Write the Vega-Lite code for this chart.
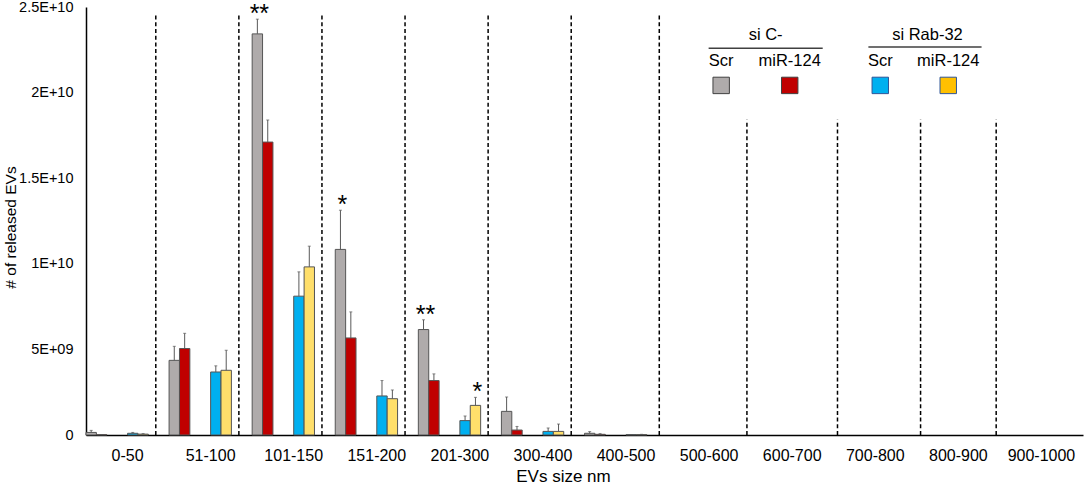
{
  "$schema": "https://vega.github.io/schema/vega-lite/v6.json",
  "width": 997,
  "height": 428,
  "autosize": "none",
  "padding": {"left": 86, "top": 7, "right": 1, "bottom": 51},
  "config": {
    "view": {"stroke": null},
    "font": "Liberation Sans",
    "text": {"font": "Liberation Sans"},
    "axis": {"labelFont": "Liberation Sans", "titleFont": "Liberation Sans", "labelColor": "#000", "titleColor": "#000", "titleFontWeight": "normal", "grid": false, "ticks": false, "domainColor": "#000", "domainWidth": 1.5}
  },
  "datasets": {
    "bars": [
      {"size": "0-50", "group": "si C- Scr", "value": 1.5e8, "hi": 2.7e8},
      {"size": "0-50", "group": "si C- miR-124", "value": 2e7, "hi": 3e7},
      {"size": "0-50", "group": "si Rab-32 Scr", "value": 1.0e8, "hi": 1.5e8},
      {"size": "0-50", "group": "si Rab-32 miR-124", "value": 5e7, "hi": 8e7},
      {"size": "51-100", "group": "si C- Scr", "value": 4.36e9, "hi": 5.18e9},
      {"size": "51-100", "group": "si C- miR-124", "value": 5.05e9, "hi": 5.94e9},
      {"size": "51-100", "group": "si Rab-32 Scr", "value": 3.68e9, "hi": 4.04e9},
      {"size": "51-100", "group": "si Rab-32 miR-124", "value": 3.78e9, "hi": 4.95e9},
      {"size": "101-150", "group": "si C- Scr", "value": 2.343e10, "hi": 2.429e10, "sig": "**"},
      {"size": "101-150", "group": "si C- miR-124", "value": 1.711e10, "hi": 1.84e10},
      {"size": "101-150", "group": "si Rab-32 Scr", "value": 8.11e9, "hi": 9.53e9},
      {"size": "101-150", "group": "si Rab-32 miR-124", "value": 9.82e9, "hi": 1.103e10},
      {"size": "151-200", "group": "si C- Scr", "value": 1.084e10, "hi": 1.313e10, "sig": "*"},
      {"size": "151-200", "group": "si C- miR-124", "value": 5.67e9, "hi": 7.19e9},
      {"size": "151-200", "group": "si Rab-32 Scr", "value": 2.28e9, "hi": 3.18e9},
      {"size": "151-200", "group": "si Rab-32 miR-124", "value": 2.12e9, "hi": 2.63e9},
      {"size": "201-300", "group": "si C- Scr", "value": 6.16e9, "hi": 6.73e9, "sig": "**"},
      {"size": "201-300", "group": "si C- miR-124", "value": 3.18e9, "hi": 3.57e9},
      {"size": "201-300", "group": "si Rab-32 Scr", "value": 8.4e8, "hi": 1.11e9},
      {"size": "201-300", "group": "si Rab-32 miR-124", "value": 1.73e9, "hi": 2.2e9, "sig": "*"},
      {"size": "300-400", "group": "si C- Scr", "value": 1.38e9, "hi": 2.22e9},
      {"size": "300-400", "group": "si C- miR-124", "value": 2.9e8, "hi": 5.0e8},
      {"size": "300-400", "group": "si Rab-32 Scr", "value": 2.1e8, "hi": 4.1e8},
      {"size": "300-400", "group": "si Rab-32 miR-124", "value": 2.1e8, "hi": 6.4e8},
      {"size": "400-500", "group": "si C- Scr", "value": 1.0e8, "hi": 2.0e8},
      {"size": "400-500", "group": "si C- miR-124", "value": 4e7, "hi": 8e7},
      {"size": "400-500", "group": "si Rab-32 Scr", "value": 2e7, "hi": 3e7},
      {"size": "400-500", "group": "si Rab-32 miR-124", "value": 2e7, "hi": 4e7}
    ],
    "dividers": [
      {"after": "0-50", "set": "a"},
      {"after": "51-100", "set": "a"},
      {"after": "101-150", "set": "a"},
      {"after": "151-200", "set": "a"},
      {"after": "201-300", "set": "a"},
      {"after": "300-400", "set": "a"},
      {"after": "400-500", "set": "b"},
      {"after": "500-600", "set": "c"},
      {"after": "800-900", "set": "c"},
      {"after": "600-700", "set": "d"},
      {"after": "700-800", "set": "d"}
    ]
  },
  "layer": [
    {
      "data": {"name": "bars"},
      "mark": {"type": "bar", "stroke": "#555555", "strokeWidth": 1},
      "encoding": {
        "x": {
          "field": "size", "type": "nominal", "sort": null,
          "scale": {"domain": ["0-50", "51-100", "101-150", "151-200", "201-300", "300-400", "400-500", "500-600", "600-700", "700-800", "800-900", "900-1000"], "paddingInner": 0, "paddingOuter": 0},
          "axis": {"labelAngle": 0, "labelFontSize": 16, "labelPadding": 12, "titleFontSize": 17, "titleX": 477, "titleY": 46, "titleBaseline": "alphabetic", "titleAlign": "center"},
          "title": "EVs size nm"
        },
        "xOffset": {
          "field": "group", "type": "nominal",
          "scale": {"domain": ["si C- Scr", "si C- miR-124", " ", "  ", "si Rab-32 Scr", "si Rab-32 miR-124", "   ", "    "], "paddingInner": 0, "paddingOuter": 0}
        },
        "y": {
          "field": "value", "type": "quantitative",
          "scale": {"domain": [0, 2.5e10], "nice": false},
          "axis": {"values": [0, 5e9, 1e10, 1.5e10, 2e10, 2.5e10], "labelExpr": "['0','5E+09','1E+10','1.5E+10','2E+10','2.5E+10'][round(datum.value/5e9)]", "labelFontSize": 14.5, "labelPadding": 13, "titleFontSize": 15.5, "titleX": -76, "titleY": 220, "titleBaseline": "middle", "titleAlign": "center", "titleAngle": -90},
          "title": "# of released EVs"
        },
        "color": {
          "field": "group", "type": "nominal",
          "scale": {"domain": ["si C- Scr", "si C- miR-124", "si Rab-32 Scr", "si Rab-32 miR-124"], "range": ["#AFABAB", "#C00000", "#00B0F0", "#FFDF6B"]},
          "legend": null
        }
      }
    },
    {
      "data": {"name": "bars"},
      "mark": {"type": "rule", "color": "#595959", "strokeWidth": 1},
      "encoding": {
        "x": {"field": "size", "type": "nominal"},
        "xOffset": {"field": "group", "type": "nominal"},
        "y": {"field": "value", "type": "quantitative"},
        "y2": {"field": "hi"}
      }
    },
    {
      "data": {"name": "bars"},
      "mark": {"type": "tick", "color": "#595959", "thickness": 1, "size": 3, "orient": "horizontal"},
      "encoding": {
        "x": {"field": "size", "type": "nominal"},
        "xOffset": {"field": "group", "type": "nominal"},
        "y": {"field": "hi", "type": "quantitative"}
      }
    },
    {
      "data": {"name": "bars"},
      "transform": [{"filter": "datum.sig"}],
      "mark": {"type": "text", "fontSize": 25, "baseline": "alphabetic", "dy": 3, "dx": 2, "color": "#000"},
      "encoding": {
        "x": {"field": "size", "type": "nominal"},
        "xOffset": {"field": "group", "type": "nominal"},
        "y": {"field": "hi", "type": "quantitative"},
        "text": {"field": "sig"}
      }
    },
    {
      "data": {"name": "dividers"},
      "transform": [{"filter": "datum.set == 'a'"}],
      "mark": {"type": "rule", "color": "#000", "strokeWidth": 1.5, "strokeDash": [4, 2.7]},
      "encoding": {
        "x": {"field": "after", "type": "nominal", "bandPosition": 0.84},
        "y": {"datum": 0, "type": "quantitative"},
        "y2": {"datum": 2.461e10}
      }
    },
    {
      "data": {"name": "dividers"},
      "transform": [{"filter": "datum.set == 'b'"}],
      "mark": {"type": "rule", "color": "#000", "strokeWidth": 1.5, "strokeDash": [4, 2.7]},
      "encoding": {
        "x": {"field": "after", "type": "nominal", "bandPosition": 0.9},
        "y": {"datum": 0, "type": "quantitative"},
        "y2": {"datum": 2.461e10}
      }
    },
    {
      "data": {"name": "dividers"},
      "transform": [{"filter": "datum.set == 'c'"}],
      "mark": {"type": "rule", "color": "#000", "strokeWidth": 1.5, "strokeDash": [4, 2.7]},
      "encoding": {
        "x": {"field": "after", "type": "nominal", "bandPosition": 0.955},
        "y": {"datum": 0, "type": "quantitative"},
        "y2": {"datum": 1.842e10}
      }
    },
    {
      "data": {"name": "dividers"},
      "transform": [{"filter": "datum.set == 'd'"}],
      "mark": {"type": "rule", "color": "#000", "strokeWidth": 1.5, "strokeDash": [4, 2.7]},
      "encoding": {
        "x": {"field": "after", "type": "nominal", "bandPosition": 1.045},
        "y": {"datum": 0, "type": "quantitative"},
        "y2": {"datum": 1.842e10}
      }
    },
    {
      "data": {"values": [{"label": "si C-"}]},
      "layer": [
        {
          "mark": {"type": "text", "fontSize": 16.5, "baseline": "middle", "color": "#000"},
          "encoding": {
            "x": {"datum": "600-700", "type": "nominal", "bandPosition": 0.18},
            "y": {"datum": 2.338e10, "type": "quantitative"},
            "text": {"field": "label"}
          }
        },
        {
          "mark": {"type": "rule", "color": "#404040", "strokeWidth": 1.5},
          "encoding": {
            "x": {"datum": "500-600", "type": "nominal", "bandPosition": 0.494},
            "x2": {"datum": "600-700", "bandPosition": 0.867},
            "y": {"datum": 2.259e10, "type": "quantitative"}
          }
        }
      ]
    },
    {
      "data": {"values": [{"label": "si Rab-32"}]},
      "layer": [
        {
          "mark": {"type": "text", "fontSize": 16.5, "baseline": "middle", "color": "#000"},
          "encoding": {
            "x": {"datum": "800-900", "type": "nominal", "bandPosition": 0.128},
            "y": {"datum": 2.338e10, "type": "quantitative"},
            "text": {"field": "label"}
          }
        },
        {
          "mark": {"type": "rule", "color": "#404040", "strokeWidth": 1.5},
          "encoding": {
            "x": {"datum": "700-800", "type": "nominal", "bandPosition": 0.417},
            "x2": {"datum": "800-900", "bandPosition": 0.779},
            "y": {"datum": 2.266e10, "type": "quantitative"}
          }
        }
      ]
    },
    {
      "data": {"values": [{"label": "Scr"}]},
      "encoding": {"x": {"datum": "500-600", "type": "nominal", "bandPosition": 0.645}},
      "layer": [
        {"mark": {"type": "square", "size": 270, "filled": true, "opacity": 1, "color": "#AFABAB", "stroke": "#404040", "strokeWidth": 1}, "encoding": {"y": {"datum": 2.042e10, "type": "quantitative"}}},
        {"mark": {"type": "text", "fontSize": 16.5, "baseline": "middle", "color": "#000"}, "encoding": {"y": {"datum": 2.182e10, "type": "quantitative"}, "text": {"field": "label"}}}
      ]
    },
    {
      "data": {"values": [{"label": "miR-124"}]},
      "encoding": {"x": {"datum": "600-700", "type": "nominal", "bandPosition": 0.47}},
      "layer": [
        {"mark": {"type": "square", "size": 270, "filled": true, "opacity": 1, "color": "#C00000", "stroke": "#404040", "strokeWidth": 1}, "encoding": {"y": {"datum": 2.042e10, "type": "quantitative"}}},
        {"mark": {"type": "text", "fontSize": 16.5, "baseline": "middle", "color": "#000"}, "encoding": {"y": {"datum": 2.182e10, "type": "quantitative"}, "text": {"field": "label"}}}
      ]
    },
    {
      "data": {"values": [{"label": "Scr"}]},
      "encoding": {"x": {"datum": "700-800", "type": "nominal", "bandPosition": 0.56}},
      "layer": [
        {"mark": {"type": "square", "size": 270, "filled": true, "opacity": 1, "color": "#00B0F0", "stroke": "#2F5597", "strokeWidth": 1}, "encoding": {"y": {"datum": 2.042e10, "type": "quantitative"}}},
        {"mark": {"type": "text", "fontSize": 16.5, "baseline": "middle", "color": "#000"}, "encoding": {"y": {"datum": 2.182e10, "type": "quantitative"}, "text": {"field": "label"}}}
      ]
    },
    {
      "data": {"values": [{"label": "miR-124"}]},
      "encoding": {"x": {"datum": "800-900", "type": "nominal", "bandPosition": 0.378}},
      "layer": [
        {"mark": {"type": "square", "size": 270, "filled": true, "opacity": 1, "color": "#FFC000", "stroke": "#2F5597", "strokeWidth": 1}, "encoding": {"y": {"datum": 2.042e10, "type": "quantitative"}}},
        {"mark": {"type": "text", "fontSize": 16.5, "baseline": "middle", "color": "#000"}, "encoding": {"y": {"datum": 2.182e10, "type": "quantitative"}, "text": {"field": "label"}}}
      ]
    }
  ]
}
